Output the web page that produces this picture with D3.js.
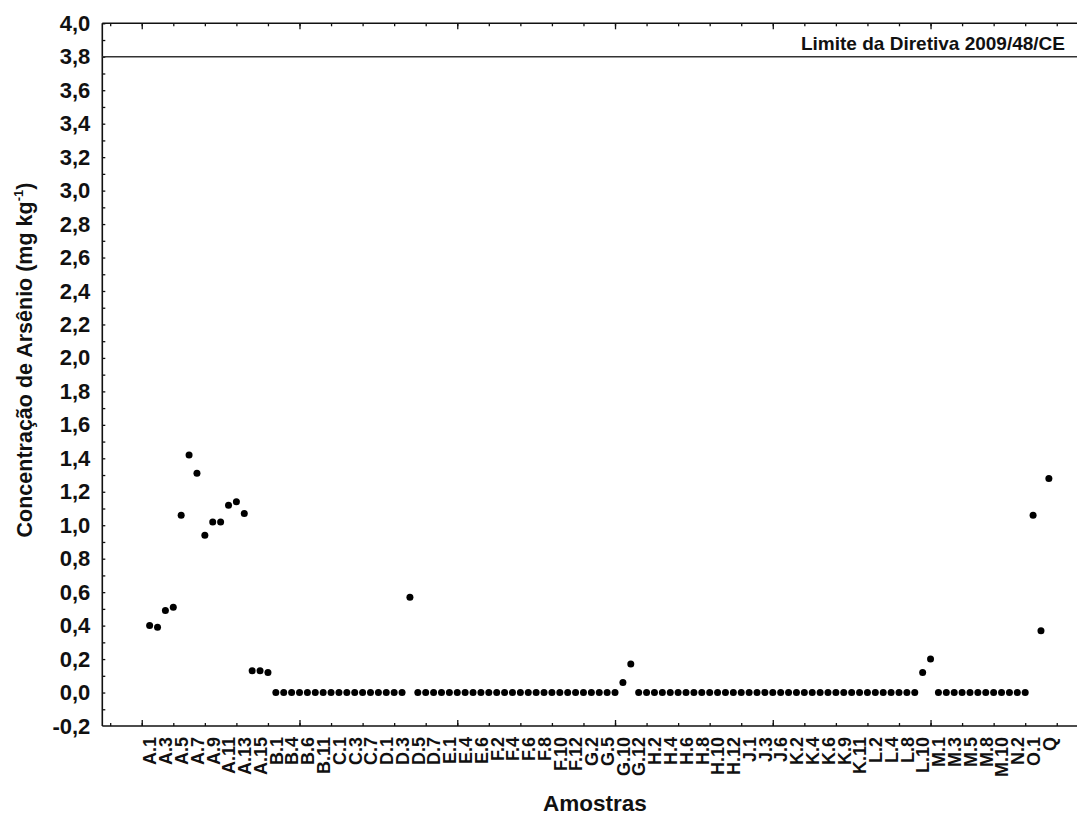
<!DOCTYPE html>
<html>
<head>
<meta charset="utf-8">
<script src="https://cdn.jsdelivr.net/npm/d3@7"></script>
<style>
  html, body { margin: 0; padding: 0; background: #fff; }
  svg { display: block; }
  text { font-family: "Liberation Sans", Arial, sans-serif; font-weight: bold; fill: #111; }
</style>
</head>
<body>
<svg id="chart" width="1077" height="816"></svg>
<script>
// ---- data ----
// case numbers 1..115 (x positions), labels shown on every other case
const tickLabels = ["A.1","A.3","A.5","A.7","A.9","A.11","A.13","A.15","B.1","B.4","B.6","B.11",
  "C.1","C.3","C.7","D.1","D.3","D.5","D.7","E.1","E.4","E.6","F.2","F.4","F.6","F.8","F.10","F.12",
  "G.2","G.5","G.10","G.12","H.2","H.4","H.6","H.8","H.10","H.12","J.1","J.3","J.6",
  "K.2","K.4","K.6","K.9","K.11","L.2","L.4","L.8","L.10","M.1","M.3","M.5","M.8","M.10",
  "N.2","O.1","Q"];
const tickCases = [1,3,5,7,9,11,13,15,17,19,21,23,25,27,29,31,33,35,37,39,41,43,45,47,49,51,53,55,
  57,59,61,63,65,67,69,71,73,75,77,79,81,83,85,87,89,91,93,95,97,99,101,103,105,107,109,111,113,115];
const arsenic = [
  0.40,0.39,0.49,0.51,1.06,1.42,1.31,0.94,1.02,1.02,1.12,1.14,1.07,0.13,0.13,0.12,
  0,0,0,0,0,0,0,0,0,0,0,0,0,0,0,0,0,
  0.57,
  0,0,0,0,0,0,0,0,0,0,0,0,0,0,0,0,0,0,0,0,0,0,0,0,0,0,
  0.06,0.17,
  0,0,0,0,0,0,0,0,0,0,0,0,0,0,0,0,0,0,0,0,0,0,0,0,0,0,0,0,0,0,0,0,0,0,0,0,
  0.12,0.20,
  0,0,0,0,0,0,0,0,0,0,0,0,
  1.06,0.37,1.28
];
const limitValue = 3.8;
const limitLabel = "Limite da Diretiva 2009/48/CE";
const yTicks = [-0.2,0,0.2,0.4,0.6,0.8,1.0,1.2,1.4,1.6,1.8,2.0,2.2,2.4,2.6,2.8,3.0,3.2,3.4,3.6,3.8,4.0];

// ---- layout ----
const svg = d3.select("#chart");
const L = 102.3, T = 23.3, B = 726;
const step = 7.888;
const x = d3.scaleLinear().domain([-5, 119]).range([L, L + 124 * step]);
const y = d3.scaleLinear().domain([-0.2, 4.0]).range([B, T]);
const R = x(119);
const fmt = v => d3.format(".1f")(v).replace(".", ",").replace("−", "-");
const FONT = "Liberation Sans, Arial, sans-serif";

const g = svg.append("g");

// minor/major ticks (inward)
const minorX = d3.range(-4, 119, 4);
const majorX = d3.range(0, 119, 20);
const minorY = d3.range(-1, 41).map(i => i / 10);

function ticks(axisGen, tr) {
  g.append("g").attr("transform", tr).call(axisGen)
    .call(a => a.select(".domain").remove())
    .selectAll("line").attr("stroke", "#111").attr("stroke-width", 1.3);
}
ticks(d3.axisBottom(x).tickValues(minorX).tickSize(-3).tickFormat(""), `translate(0,${B})`);
ticks(d3.axisBottom(x).tickValues(majorX).tickSize(-6).tickFormat(""), `translate(0,${B})`);
ticks(d3.axisTop(x).tickValues(minorX).tickSize(-3).tickFormat(""), `translate(0,${T})`);
ticks(d3.axisTop(x).tickValues(majorX).tickSize(-6).tickFormat(""), `translate(0,${T})`);
ticks(d3.axisLeft(y).tickValues(minorY).tickSize(-3).tickFormat(""), `translate(${L},0)`);

// y tick labels
const yAx = g.append("g").attr("transform", `translate(${L},0)`)
  .call(d3.axisLeft(y).tickValues(yTicks).tickSize(0).tickPadding(12).tickFormat(fmt));
yAx.select(".domain").remove();
yAx.selectAll("text").attr("font-size", 22).attr("font-family", FONT)
  .attr("font-weight", "bold").attr("fill", "#111");

// x tick labels
const labelMap = new Map(tickCases.map((c, i) => [c, tickLabels[i]]));
const xAx = g.append("g").attr("transform", `translate(0,${B})`)
  .call(d3.axisBottom(x).tickValues(tickCases).tickSize(0).tickFormat(c => labelMap.get(c)));
xAx.select(".domain").remove();
xAx.selectAll("text")
  .attr("font-size", 18).attr("font-family", FONT)
  .attr("font-weight", "bold").attr("fill", "#111")
  .attr("text-anchor", "end")
  .attr("transform", "rotate(-90)")
  .attr("x", -11).attr("y", 0).attr("dy", "0.35em");

// frame lines
g.append("line").attr("x1", L).attr("x2", L).attr("y1", T).attr("y2", B)
  .attr("stroke", "#111").attr("stroke-width", 1.6);
g.append("line").attr("x1", L).attr("x2", R).attr("y1", B).attr("y2", B)
  .attr("stroke", "#111").attr("stroke-width", 1.6);
g.append("line").attr("x1", L).attr("x2", R).attr("y1", T).attr("y2", T)
  .attr("stroke", "#111").attr("stroke-width", 1.6);

// limit line
g.append("line").attr("x1", L).attr("x2", R).attr("y1", y(limitValue)).attr("y2", y(limitValue))
  .attr("stroke", "#333").attr("stroke-width", 1.5);
g.append("text").attr("x", 1065).attr("y", y(limitValue) - 7)
  .attr("text-anchor", "end").attr("font-size", 19).text(limitLabel);

// points
g.append("g").selectAll("circle").data(arsenic).join("circle")
  .attr("cx", (d, i) => x(i + 1)).attr("cy", d => y(d)).attr("r", 3.5).attr("fill", "#000");

// axis titles
const yt = svg.append("text").attr("transform", "translate(32,360) rotate(-90)")
  .attr("text-anchor", "middle").attr("font-size", 21.5);
yt.append("tspan").text("Concentração de Arsênio (mg kg");
yt.append("tspan").attr("font-size", 13).attr("dy", -9).text("-1");
yt.append("tspan").attr("dy", 9).text(")");

svg.append("text").attr("x", 595).attr("y", 811).attr("text-anchor", "middle")
  .attr("font-size", 22.5).text("Amostras");
</script>
</body>
</html>
